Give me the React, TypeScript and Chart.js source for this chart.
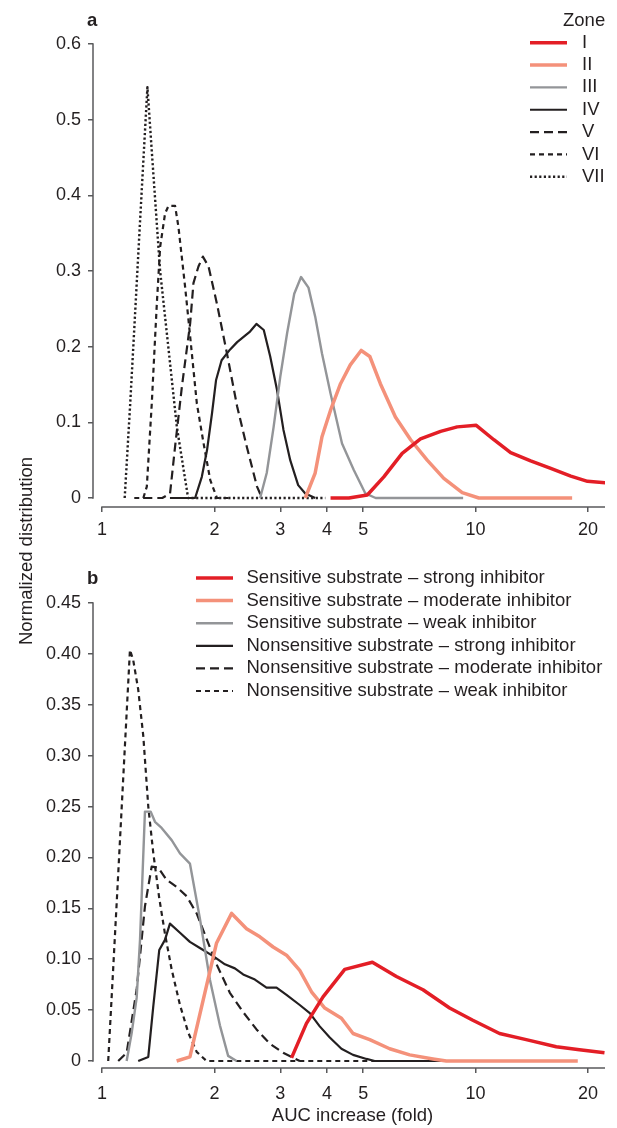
import React, { useEffect, useRef } from 'react';
import { Chart, registerables } from 'chart.js';

Chart.register(...registerables);

const FONT = '"Liberation Sans", Arial, Helvetica, sans-serif';
const TEXT = '#231f20';
const AXIS = '#58595b';
const RED = '#e31e26';
const SALMON = '#f4917a';
const GRAY = '#939598';
const BLACK = '#231f20';

const X_MIN = 0.946;
const X_MAX = 22.2;
const xTickValues = [1, 2, 3, 4, 5, 10, 20];
const yTicksA = [0, 0.1, 0.2, 0.3, 0.4, 0.5, 0.6];
const yTicksB = [0, 0.05, 0.1, 0.15, 0.2, 0.25, 0.3, 0.35, 0.4, 0.45];

// ---------- Panel a: zones ----------
const zoneLabels = ['I', 'II', 'III', 'IV', 'V', 'VI', 'VII'];

const zoneIX = [4.09, 4.58, 5.13, 5.68, 6.36, 7.12, 8.06, 8.93, 10.04, 11.19, 12.41, 14.04, 15.89, 17.98, 19.93, 22.3];
const zoneIY = [0, 0, 0.004, 0.028, 0.059, 0.078, 0.088, 0.094, 0.096, 0.077, 0.06, 0.049, 0.039, 0.029, 0.022, 0.02];

const zoneIIX = [3.5, 3.72, 3.88, 4.09, 4.35, 4.62, 4.94, 5.21, 5.56, 6.1, 6.7, 7.42, 8.22, 9.21, 10.2, 18.13];
const zoneIIY = [0, 0.033, 0.081, 0.116, 0.151, 0.176, 0.195, 0.187, 0.151, 0.107, 0.077, 0.05, 0.026, 0.007, 0, 0];

const zoneIIIX = [2.65, 2.76, 2.88, 3.0, 3.13, 3.27, 3.41, 3.57, 3.72, 3.88, 4.09, 4.39, 4.72, 5.07, 5.4, 9.26];
const zoneIIIY = [0, 0.033, 0.094, 0.16, 0.218, 0.27, 0.292, 0.278, 0.24, 0.191, 0.138, 0.072, 0.037, 0.006, 0, 0];

const zoneIVX = [1.52, 1.775, 1.85, 1.91, 1.97, 2.02, 2.09, 2.2, 2.3, 2.42, 2.49, 2.59, 2.71, 2.82, 2.94, 3.06, 3.19, 3.35, 3.5, 3.72];
const zoneIVY = [0, 0, 0.028, 0.063, 0.112, 0.156, 0.182, 0.196, 0.206, 0.215, 0.22, 0.23, 0.222, 0.187, 0.143, 0.09, 0.05, 0.017, 0.006, 0];

const zoneVX = [1.29, 1.45, 1.521, 1.569, 1.636, 1.722, 1.757, 1.812, 1.862, 1.928, 2.03, 2.16, 2.3, 2.44, 2.6, 2.68];
const zoneVY = [0, 0, 0.006, 0.068, 0.147, 0.231, 0.284, 0.306, 0.319, 0.306, 0.257, 0.191, 0.121, 0.068, 0.015, 0];

const zoneVIX = [1.22, 1.29, 1.318, 1.359, 1.402, 1.431, 1.475, 1.506, 1.569, 1.602, 1.669, 1.722, 1.794, 1.869, 1.948, 2.03, 2.2];
const zoneVIY = [0, 0, 0.015, 0.125, 0.257, 0.332, 0.376, 0.386, 0.386, 0.358, 0.279, 0.213, 0.125, 0.073, 0.024, 0, 0];

const zoneVIIX = [1.15, 1.189, 1.226, 1.264, 1.296, 1.323, 1.361, 1.43, 1.503, 1.586, 1.7, 3.96];
const zoneVIIY = [0, 0.122, 0.243, 0.365, 0.463, 0.543, 0.454, 0.301, 0.202, 0.094, 0, 0];

// ---------- Panel b: substrate / inhibitor ----------
const comboLabels = [
  'Sensitive substrate \u2013 strong inhibitor',
  'Sensitive substrate \u2013 moderate inhibitor',
  'Sensitive substrate \u2013 weak inhibitor',
  'Nonsensitive substrate \u2013 strong inhibitor',
  'Nonsensitive substrate \u2013 moderate inhibitor',
  'Nonsensitive substrate \u2013 weak inhibitor',
];

const sensStrongX = [3.216, 3.526, 3.905, 4.464, 5.293, 6.138, 7.23, 8.52, 9.83, 11.59, 13.66, 16.44, 18.97, 22.13];
const sensStrongY = [0.003, 0.037, 0.063, 0.09, 0.097, 0.083, 0.07, 0.052, 0.04, 0.027, 0.021, 0.014, 0.011, 0.008];

const sensModX = [1.584, 1.719, 1.866, 2.026, 2.223, 2.437, 2.646, 2.871, 3.118, 3.383, 3.637, 3.947, 4.374, 4.698, 5.207, 5.889, 6.662, 7.69, 8.35, 18.77];
const sensModY = [0, 0.004, 0.06, 0.116, 0.145, 0.13, 0.122, 0.112, 0.104, 0.089, 0.068, 0.052, 0.042, 0.027, 0.021, 0.012, 0.006, 0.002, 0, 0];

const sensWeakX = [1.164, 1.2, 1.238, 1.264, 1.303, 1.35, 1.386, 1.444, 1.536, 1.617, 1.719, 1.828, 1.944, 2.068, 2.176, 2.292];
const sensWeakY = [0, 0.027, 0.062, 0.119, 0.245, 0.245, 0.235, 0.229, 0.217, 0.204, 0.194, 0.14, 0.08, 0.035, 0.005, 0];

const nonStrongX = [1.25, 1.33, 1.371, 1.423, 1.474, 1.52, 1.617, 1.719, 1.828, 1.984, 2.133, 2.268, 2.387, 2.566, 2.756, 2.932, 3.118, 3.383, 3.599, 3.827, 4.071, 4.374, 4.698, 5.104, 5.37, 9.23];
const nonStrongY = [0, 0.004, 0.053, 0.109, 0.119, 0.135, 0.126, 0.117, 0.111, 0.103, 0.095, 0.091, 0.085, 0.08, 0.072, 0.072, 0.065, 0.055, 0.047, 0.034, 0.023, 0.012, 0.006, 0.002, 0, 0];

const nonModX = [1.105, 1.164, 1.238, 1.303, 1.358, 1.414, 1.489, 1.584, 1.684, 1.792, 1.905, 2.026, 2.199, 2.387, 2.592, 2.813, 3.053, 3.216, 3.383];
const nonModY = [0, 0.008, 0.07, 0.152, 0.191, 0.19, 0.178, 0.171, 0.162, 0.145, 0.12, 0.095, 0.067, 0.048, 0.031, 0.017, 0.008, 0.004, 0];

const nonWeakX = [1.039, 1.07, 1.104, 1.145, 1.188, 1.212, 1.25, 1.29, 1.33, 1.371, 1.423, 1.474, 1.536, 1.617, 1.701, 1.792, 1.905, 6.0];
const nonWeakY = [0, 0.087, 0.181, 0.292, 0.404, 0.394, 0.365, 0.319, 0.25, 0.205, 0.16, 0.125, 0.09, 0.055, 0.028, 0.009, 0, 0];

const pts = (xs: number[], ys: number[]) => xs.map((x, i) => ({ x, y: ys[i] }));

const line = (label: string, xs: number[], ys: number[], color: string, width: number, dash: number[]) => ({
  label,
  data: pts(xs, ys),
  borderColor: color,
  backgroundColor: color,
  borderWidth: width,
  borderDash: dash,
  borderCapStyle: 'butt',
  borderJoinStyle: 'round',
  pointRadius: 0,
  pointHoverRadius: 0,
  tension: 0,
  fill: false,
});

const DASH_LONG = [9, 5];
const DASH_SHORT = [5, 4];
const DOT = [2.2, 2.4];

const decorPlugin = {
  id: 'decor',
  afterDraw(chart: any, _args: any, opts: any) {
    const { ctx, chartArea: ca } = chart;
    const xs = chart.scales.x;
    const ys = chart.scales.y;
    ctx.save();
    ctx.setLineDash([]);
    ctx.strokeStyle = AXIS;
    ctx.lineWidth = 1.5;
    ctx.beginPath();
    ctx.moveTo(ca.left, ys.getPixelForValue(0) + 0.75);
    ctx.lineTo(ca.left, ys.getPixelForValue(opts.yTop) - 0.75);
    ctx.stroke();
    ctx.beginPath();
    ctx.moveTo(xs.getPixelForValue(1) - 0.75, ca.bottom);
    ctx.lineTo(ca.right, ca.bottom);
    ctx.stroke();

    ctx.fillStyle = TEXT;
    ctx.textAlign = 'left';
    ctx.textBaseline = 'alphabetic';
    ctx.font = `bold 18.5px ${FONT}`;
    ctx.fillText(opts.panel, opts.panelX, opts.panelY);

    ctx.font = `18.5px ${FONT}`;
    const L = opts.legend;
    if (L.title) ctx.fillText(L.title, L.titleX, L.titleY);
    ctx.textBaseline = 'middle';
    chart.data.datasets.forEach((ds: any, i: number) => {
      const y = L.y0 + i * L.dy;
      ctx.save();
      ctx.strokeStyle = ds.borderColor;
      ctx.lineWidth = ds.borderWidth;
      ctx.lineCap = 'butt';
      ctx.setLineDash(ds.borderDash || []);
      ctx.beginPath();
      ctx.moveTo(L.x0, y);
      ctx.lineTo(L.x1, y);
      ctx.stroke();
      ctx.restore();
      ctx.fillText(ds.label, L.tx, y);
    });

    if (opts.xTitle) {
      ctx.textAlign = 'center';
      ctx.textBaseline = 'alphabetic';
      ctx.fillText(opts.xTitle.text, opts.xTitle.x, opts.xTitle.y);
    }
    ctx.restore();
  },
};

function makeOptions(cfg: any) {
  return {
    responsive: false,
    animation: false,
    devicePixelRatio: 1,
    layout: { padding: { top: cfg.padTop, right: 12, left: 0, bottom: 0 } },
    plugins: {
      legend: { display: false },
      tooltip: { enabled: false },
      decor: cfg.decor,
    },
    scales: {
      x: {
        type: 'logarithmic',
        min: X_MIN,
        max: X_MAX,
        afterFit: (s: any) => { s.height = cfg.xHeight; },
        afterBuildTicks: (s: any) => { s.ticks = xTickValues.map((v) => ({ value: v })); },
        grid: { display: true, drawOnChartArea: false, drawTicks: true, tickLength: 5, color: AXIS, lineWidth: 1.5 },
        border: { display: false },
        ticks: {
          autoSkip: false,
          maxRotation: 0,
          padding: cfg.xPad,
          color: TEXT,
          font: { family: FONT, size: 18 },
          callback: (v: any) => String(v),
        },
      },
      y: {
        type: 'linear',
        min: cfg.yMin,
        max: cfg.yMax,
        afterFit: (s: any) => { s.width = 93; },
        afterBuildTicks: (s: any) => { s.ticks = cfg.yTicks.map((v: number) => ({ value: v })); },
        grid: { display: true, drawOnChartArea: false, drawTicks: true, tickLength: 5, color: AXIS, lineWidth: 1.5 },
        border: { display: false },
        ticks: {
          padding: 7,
          color: TEXT,
          font: { family: FONT, size: 18 },
          callback: (v: any) => (v === 0 ? '0' : Number(v).toFixed(cfg.decimals)),
        },
      },
    },
  };
}

function ChartCanvas({ config, width, height, top }: any) {
  const ref = useRef<HTMLCanvasElement | null>(null);
  useEffect(() => {
    if (!ref.current) return;
    const chart = new Chart(ref.current, { ...config, plugins: [decorPlugin] });
    return () => chart.destroy();
  }, []);
  return (
    <div style={{ position: 'absolute', left: 0, top, width, height }}>
      <canvas ref={ref} width={width} height={height} style={{ display: 'block', width, height }} />
    </div>
  );
}

const configA = {
  type: 'line',
  data: {
    datasets: [
      line(zoneLabels[0], zoneIX, zoneIY, RED, 3.5, []),
      line(zoneLabels[1], zoneIIX, zoneIIY, SALMON, 3.5, []),
      line(zoneLabels[2], zoneIIIX, zoneIIIY, GRAY, 2.4, []),
      line(zoneLabels[3], zoneIVX, zoneIVY, BLACK, 2.2, []),
      line(zoneLabels[4], zoneVX, zoneVY, BLACK, 2.2, DASH_LONG),
      line(zoneLabels[5], zoneVIX, zoneVIY, BLACK, 2.2, DASH_SHORT),
      line(zoneLabels[6], zoneVIIX, zoneVIIY, BLACK, 2.4, DOT),
    ],
  },
  options: makeOptions({
    padTop: 44,
    xHeight: 38,
    xPad: 7,
    yMin: -0.0119,
    yMax: 0.6,
    yTicks: yTicksA,
    decimals: 1,
    decor: {
      yTop: 0.6,
      panel: 'a',
      panelX: 87,
      panelY: 26,
      legend: { title: 'Zone', titleX: 563, titleY: 26, y0: 42.7, dy: 22.35, x0: 530, x1: 567, tx: 582 },
    },
  }),
};

const configB = {
  type: 'line',
  data: {
    datasets: [
      line(comboLabels[0], sensStrongX, sensStrongY, RED, 3.5, []),
      line(comboLabels[1], sensModX, sensModY, SALMON, 3.5, []),
      line(comboLabels[2], sensWeakX, sensWeakY, GRAY, 2.4, []),
      line(comboLabels[3], nonStrongX, nonStrongY, BLACK, 2.2, []),
      line(comboLabels[4], nonModX, nonModY, BLACK, 2.2, DASH_LONG),
      line(comboLabels[5], nonWeakX, nonWeakY, BLACK, 2.2, DASH_SHORT),
    ],
  },
  options: makeOptions({
    padTop: 48,
    xHeight: 60,
    xPad: 10,
    yMin: -0.0069,
    yMax: 0.45,
    yTicks: yTicksB,
    decimals: 2,
    decor: {
      yTop: 0.45,
      panel: 'b',
      panelX: 87,
      panelY: 29,
      legend: { title: '', y0: 23, dy: 22.6, x0: 196, x1: 233, tx: 246.5 },
      xTitle: { text: 'AUC increase (fold)', x: 352.5, y: 566 },
    },
  }),
};

const yTitleStyle: any = {
  position: 'absolute',
  left: 25.5 - 120,
  top: 551 - 11,
  width: 240,
  height: 22,
  lineHeight: '22px',
  textAlign: 'center',
  transform: 'rotate(-90deg)',
  transformOrigin: 'center center',
  font: `18.5px ${FONT}`,
  color: TEXT,
  whiteSpace: 'nowrap',
};

export default function App() {
  return (
    <div style={{ position: 'absolute', left: 0, top: 0, width: 617, height: 1128, background: '#fff', overflow: 'hidden' }}>
      <ChartCanvas config={configA} width={617} height={545} top={0} />
      <ChartCanvas config={configB} width={617} height={573} top={555} />
      <div style={yTitleStyle}>Normalized distribution</div>
    </div>
  );
}
